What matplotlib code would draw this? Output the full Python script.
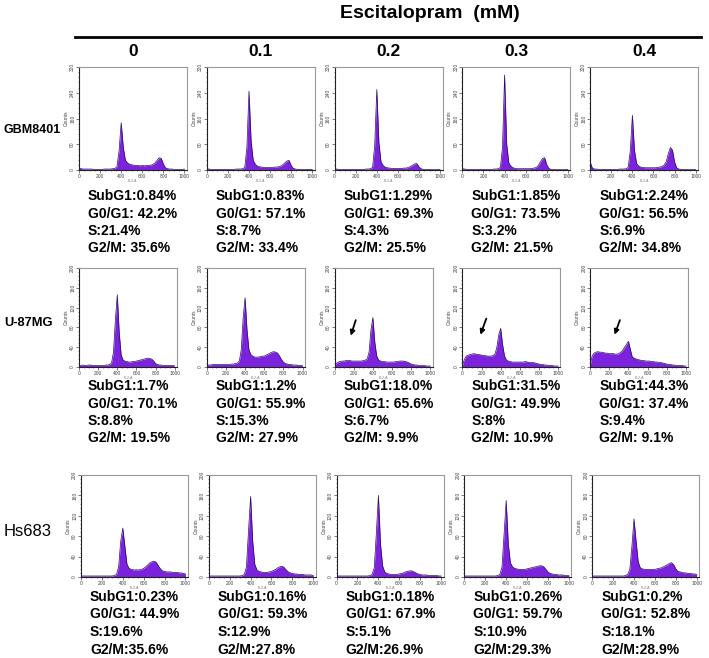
import matplotlib
matplotlib.use("Agg")
import matplotlib.pyplot as plt
from matplotlib.lines import Line2D
from matplotlib.ticker import MultipleLocator

plt.rcParams['font.family'] = ['Liberation Sans', 'DejaVu Sans']

W, H = 709, 658
DPI = 100

# ---------------- data ----------------
TITLE = "Escitalopram  (mM)"
DOSES = ["0", "0.1", "0.2", "0.3", "0.4"]
CELL_LINES = ["GBM8401", "U-87MG", "Hs683"]

CHANNELS = [0, 20, 40, 60, 80, 100, 120, 140, 160, 180, 200, 220, 240, 260, 280,
            300, 320, 340, 360, 380, 400, 420, 440, 460, 480, 500, 520, 540, 560,
            580, 600, 620, 640, 660, 680, 700, 720, 740, 760, 780, 800, 820, 840,
            860, 880, 900, 920, 940, 960, 980, 1000]

# GBM8401 histograms (counts)
gbm_0 = [6, 4, 3, 3, 3, 3, 3, 2, 2, 2, 2, 2, 3, 3, 3, 3, 4, 5, 10, 60, 147, 70, 30,
         22, 18, 16, 15, 14, 14, 13, 14, 13, 14, 14, 15, 17, 22, 30, 38, 36, 18, 7,
         4, 3, 3, 2, 2, 2, 2, 2, 3]
gbm_01 = [4, 3, 2, 2, 2, 2, 2, 2, 2, 2, 2, 2, 2, 2, 3, 3, 3, 4, 8, 70, 245, 90, 30,
          18, 12, 10, 9, 8, 8, 8, 8, 8, 9, 9, 10, 12, 16, 22, 28, 30, 14, 5,
          3, 2, 2, 2, 2, 2, 2, 2, 2]
gbm_02 = [4, 3, 2, 2, 2, 2, 2, 2, 2, 2, 2, 2, 2, 2, 2, 3, 3, 4, 8, 75, 250, 85, 25,
          14, 9, 7, 6, 5, 5, 5, 5, 5, 5, 6, 6, 8, 11, 15, 19, 20, 10, 4,
          2, 2, 2, 2, 1, 1, 1, 1, 2]
gbm_03 = [4, 3, 2, 2, 2, 2, 2, 2, 2, 2, 2, 2, 2, 2, 2, 3, 3, 4, 8, 70, 295, 80, 22,
          12, 7, 5, 4, 4, 4, 4, 4, 4, 4, 5, 6, 8, 14, 26, 36, 38, 16, 5,
          2, 2, 2, 1, 1, 1, 1, 1, 2]
gbm_04 = [25, 6, 3, 3, 2, 2, 2, 2, 2, 2, 2, 2, 2, 2, 3, 3, 3, 4, 8, 60, 170, 60, 20,
          12, 9, 8, 7, 7, 7, 7, 7, 7, 8, 9, 11, 15, 25, 50, 70, 62, 25, 7,
          3, 2, 2, 2, 2, 1, 1, 1, 2]

# U-87MG histograms
u87_0 = [3, 3, 4, 3, 3, 4, 4, 3, 3, 3, 3, 3, 3, 3, 4, 4, 5, 8, 30, 95, 146, 70, 25,
         14, 12, 11, 10, 10, 11, 11, 12, 13, 14, 15, 16, 17, 18, 17, 16, 12, 7, 5,
         4, 4, 3, 3, 3, 3, 3, 3, 2]
u87_01 = [4, 4, 4, 5, 5, 5, 5, 5, 5, 5, 5, 5, 5, 6, 6, 7, 8, 12, 35, 100, 140, 75, 35,
          25, 22, 20, 20, 20, 21, 22, 22, 24, 26, 28, 30, 31, 30, 28, 22, 15, 10, 7,
          6, 5, 5, 4, 4, 4, 3, 3, 3]
u87_02 = [4, 8, 10, 11, 12, 12, 13, 13, 13, 12, 12, 12, 12, 12, 12, 13, 14, 16, 30, 75, 100, 50, 22,
          14, 12, 11, 11, 10, 10, 10, 10, 10, 11, 11, 12, 12, 12, 11, 10, 8, 6, 5,
          4, 4, 3, 3, 3, 3, 2, 2, 2]
u87_03 = [3, 15, 22, 24, 25, 26, 27, 26, 25, 25, 24, 23, 23, 22, 22, 22, 23, 26, 40, 65, 78, 45, 22,
          14, 12, 11, 10, 10, 10, 10, 10, 10, 10, 11, 10, 9, 9, 9, 8, 7, 6, 5,
          5, 4, 4, 3, 3, 3, 2, 2, 2]
u87_04 = [4, 22, 28, 30, 31, 30, 30, 29, 28, 28, 27, 27, 27, 26, 26, 27, 30, 34, 40, 46, 52, 35, 20,
          18, 16, 15, 14, 13, 13, 12, 12, 12, 11, 11, 10, 10, 9, 9, 8, 7, 6, 5,
          5, 4, 4, 3, 3, 3, 3, 2, 2]

# Hs683 histograms
hs_0 = [2, 2, 2, 2, 2, 2, 2, 2, 2, 2, 2, 2, 2, 2, 2, 2, 3, 5, 20, 70, 96, 60, 25,
        17, 15, 14, 14, 14, 14, 15, 17, 20, 24, 28, 30, 31, 29, 22, 16, 12, 11, 10,
        10, 10, 9, 9, 9, 8, 8, 7, 6]
hs_01 = [2, 2, 2, 2, 2, 2, 2, 2, 2, 2, 2, 2, 2, 2, 2, 2, 3, 5, 20, 90, 158, 70, 25,
         14, 11, 10, 9, 9, 9, 10, 11, 13, 15, 18, 20, 21, 19, 14, 10, 8, 7, 6,
         6, 5, 5, 5, 4, 4, 4, 4, 3]
hs_02 = [2, 2, 2, 2, 2, 2, 2, 2, 2, 2, 2, 2, 2, 2, 2, 2, 3, 5, 18, 85, 160, 65, 22,
         10, 7, 6, 5, 5, 5, 5, 6, 7, 8, 10, 11, 12, 12, 10, 8, 6, 5, 4,
         4, 4, 3, 3, 3, 3, 3, 2, 2]
hs_03 = [2, 2, 2, 2, 2, 2, 2, 2, 2, 2, 2, 2, 2, 2, 2, 2, 3, 5, 20, 85, 150, 65, 28,
         20, 17, 16, 15, 15, 15, 15, 16, 17, 18, 19, 20, 21, 22, 22, 20, 15, 10, 7,
         6, 5, 5, 4, 4, 4, 3, 3, 3]
hs_04 = [2, 2, 2, 2, 2, 2, 2, 2, 2, 2, 2, 2, 2, 2, 2, 2, 3, 5, 15, 60, 114, 70, 30,
         18, 16, 15, 15, 15, 15, 15, 15, 16, 17, 18, 20, 22, 24, 27, 28, 24, 16, 11,
         10, 9, 8, 8, 7, 7, 6, 6, 5]

HISTS = [[gbm_0, gbm_01, gbm_02, gbm_03, gbm_04],
         [u87_0, u87_01, u87_02, u87_03, u87_04],
         [hs_0, hs_01, hs_02, hs_03, hs_04]]

STATS = [
    [["SubG1:0.84%", "G0/G1: 42.2%", "S:21.4%", "G2/M: 35.6%"],
     ["SubG1:0.83%", "G0/G1: 57.1%", "S:8.7%", "G2/M: 33.4%"],
     ["SubG1:1.29%", "G0/G1: 69.3%", "S:4.3%", "G2/M: 25.5%"],
     ["SubG1:1.85%", "G0/G1: 73.5%", "S:3.2%", "G2/M: 21.5%"],
     ["SubG1:2.24%", "G0/G1: 56.5%", "S:6.9%", "G2/M: 34.8%"]],
    [["SubG1:1.7%", "G0/G1: 70.1%", "S:8.8%", "G2/M: 19.5%"],
     ["SubG1:1.2%", "G0/G1: 55.9%", "S:15.3%", "G2/M: 27.9%"],
     ["SubG1:18.0%", "G0/G1: 65.6%", "S:6.7%", "G2/M: 9.9%"],
     ["SubG1:31.5%", "G0/G1: 49.9%", "S:8%", "G2/M: 10.9%"],
     ["SubG1:44.3%", "G0/G1: 37.4%", "S:9.4%", "G2/M: 9.1%"]],
    [["SubG1:0.23%", "G0/G1: 44.9%", "S:19.6%", "G2/M:35.6%"],
     ["SubG1:0.16%", "G0/G1: 59.3%", "S:12.9%", "G2/M:27.8%"],
     ["SubG1:0.18%", "G0/G1: 67.9%", "S:5.1%", "G2/M:26.9%"],
     ["SubG1:0.26%", "G0/G1: 59.7%", "S:10.9%", "G2/M:29.3%"],
     ["SubG1:0.2%", "G0/G1: 52.8%", "S:18.1%", "G2/M:28.9%"]],
]

YMAX = [320, 200, 200]
YSTEP = [80, 40, 40]

# sub-G1 arrows (U-87MG, doses 0.2-0.4): (tail x, tail y, head x, head y)
ARROWS = {2: (230, 100, 160, 58), 3: (260, 103, 178, 60), 4: (320, 100, 245, 60)}

# ---------------- layout (pixels) ----------------
ROW_TOP = [67, 268, 475]
ROW_H = [103, 99, 102]
ROW_W = [108, 98, 107]
ROW_LEFT0 = [79, 79, 81]
COL_STEP = 127.8
TEXT_Y = [[196, 213.5, 231, 248.5], [386, 403.5, 421, 438.5], [597, 614.5, 632, 649.5]]

FILL = '#7b22dc'
EDGE = '#2e0866'

fig = plt.figure(figsize=(W / DPI, H / DPI), dpi=DPI)
fig.patch.set_facecolor('white')


def fx(x):
    return x / W


def fy(y):
    return 1 - y / H


fig.text(fx(430), fy(13), TITLE, ha='center', va='center', fontsize=14,
         fontweight='bold')
fig.add_artist(Line2D([fx(75), fx(701)], [fy(37), fy(37)], color='black', lw=2))
for c, d in enumerate(DOSES):
    cx = ROW_LEFT0[0] + c * COL_STEP + ROW_W[0] / 2
    fig.text(fx(cx), fy(52), d, ha='center', va='center', fontsize=12.5,
             fontweight='bold')

fig.text(fx(4), fy(130), CELL_LINES[0], ha='left', va='center', fontsize=9,
         fontweight='bold')
fig.text(fx(4), fy(323), CELL_LINES[1], ha='left', va='center', fontsize=9.3,
         fontweight='bold')
fig.text(fx(4), fy(531), CELL_LINES[2], ha='left', va='center', fontsize=12)

for r in range(3):
    for c in range(5):
        left = ROW_LEFT0[r] + c * COL_STEP
        top = ROW_TOP[r]
        ax = fig.add_axes([fx(left), fy(top + ROW_H[r]), ROW_W[r] / W, ROW_H[r] / H])
        vals = HISTS[r][c]
        ax.fill_between(CHANNELS, vals, 0, color=FILL, lw=0)
        ax.plot(CHANNELS, vals, color=EDGE, lw=0.5)
        ax.set_xlim(0, 1024)
        ax.set_ylim(0, YMAX[r])
        ax.xaxis.set_major_locator(MultipleLocator(200))
        ax.xaxis.set_minor_locator(MultipleLocator(50))
        ax.yaxis.set_major_locator(MultipleLocator(YSTEP[r]))
        ax.yaxis.set_minor_locator(MultipleLocator(YSTEP[r] / 5))
        ax.tick_params(axis='both', which='major', labelsize=3.5, length=2,
                       width=0.5, pad=0.8, colors='#444444')
        ax.tick_params(axis='both', which='minor', length=1, width=0.4,
                       colors='#444444')
        for lab in ax.get_yticklabels():
            lab.set_rotation(90)
            lab.set_va('center')
        ax.set_ylabel("Counts", fontsize=3.5, labelpad=1, color='#444444')
        ax.set_xlabel("FL2-A", fontsize=2.5, labelpad=0, color='#777777')
        for side in ['top', 'right']:
            ax.spines[side].set_color('#999999')
            ax.spines[side].set_linewidth(0.8)
        for side in ['left', 'bottom']:
            ax.spines[side].set_color('#222222')
            ax.spines[side].set_linewidth(0.8)
        if r == 1 and c in ARROWS:
            tx, ty, hx, hy = ARROWS[c]
            ax.annotate("", xy=(hx, hy), xytext=(tx, ty),
                        arrowprops=dict(arrowstyle='-|>', color='black', lw=1.3,
                                        mutation_scale=7))
        for k, s in enumerate(STATS[r][c]):
            fig.text(fx(left + 9), fy(TEXT_Y[r][k]), s, ha='left', va='center',
                     fontsize=10, fontweight='bold')

fig.savefig("out.png", dpi=DPI, facecolor='white')
